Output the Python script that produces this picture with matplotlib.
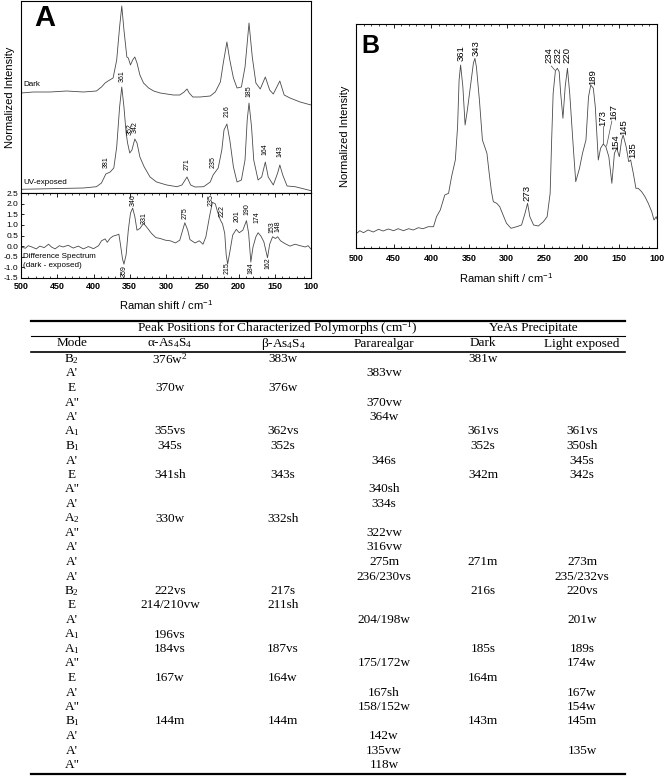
import matplotlib
matplotlib.use('Agg')
import matplotlib.pyplot as plt
from matplotlib.ticker import MultipleLocator, FormatStrFormatter

plt.rcParams['font.family'] = ['Liberation Sans', 'DejaVu Sans']
plt.rcParams['mathtext.default'] = 'regular'

# ---------------- Panel A: Dark spectrum ----------------
dark_w = [500, 483, 460, 437, 414, 396, 389, 384, 380, 373, 368, 364, 361, 358, 354, 352, 349, 346, 343, 340,
          336, 331, 324, 317, 308, 299, 290, 281, 275, 271, 268, 263, 253, 239, 232, 225, 221, 216, 212, 207,
          202, 196, 191, 185.5, 181, 176, 170, 163, 157, 152, 143, 137, 129, 115, 100]
dark_i = [1.00, 1.01, 1.01, 1.02, 1.01, 1.02, 1.06, 1.10, 1.12, 1.15, 1.33, 1.66, 1.87, 1.63, 1.36, 1.35, 1.28, 1.33, 1.36, 1.30,
          1.18, 1.10, 1.05, 1.02, 1.00, 0.99, 0.98, 0.98, 1.01, 1.04, 1.00, 0.96, 0.96, 0.97, 1.01, 1.11, 1.30, 1.51, 1.33, 1.15,
          1.05, 1.06, 1.26, 1.70, 1.36, 1.10, 1.04, 1.16, 1.03, 0.99, 1.12, 0.98, 0.95, 0.91, 0.88]

# ---------------- Panel A: UV-exposed spectrum ----------------
uv_w = [500, 460, 414, 396, 389, 383, 377, 372, 368, 364, 361, 358, 355, 353, 350, 347, 343, 340, 336, 330,
        322, 313, 299, 285, 278, 271, 266, 260, 248, 239, 235, 228, 223, 220, 216, 212, 207, 202, 196, 191,
        188, 185.5, 182, 179, 173, 168, 163, 159, 152, 146, 143, 139, 133, 122, 113, 100]
uv_i = [0.037, 0.043, 0.05, 0.063, 0.10, 0.19, 0.21, 0.25, 0.46, 0.86, 1.06, 0.86, 0.60, 0.50, 0.40, 0.43, 0.54, 0.50, 0.36, 0.26,
        0.16, 0.11, 0.08, 0.063, 0.08, 0.16, 0.08, 0.06, 0.063, 0.11, 0.18, 0.25, 0.43, 0.63, 0.69, 0.53, 0.26, 0.11, 0.13, 0.33,
        0.73, 0.90, 0.66, 0.33, 0.13, 0.16, 0.31, 0.16, 0.08, 0.20, 0.28, 0.18, 0.07, 0.063, 0.047, 0.023]

# ---------------- Panel A: Difference spectrum ----------------
diff_w = [500, 494, 490, 485, 479, 474, 468, 462, 458, 453, 447, 442, 435, 428, 421, 414, 407, 400, 393, 389,
          384, 381, 377, 373, 368, 365, 363, 360, 358, 355, 352, 349, 346, 343, 340, 336, 331, 327, 320, 314,
          308, 301, 294, 287, 281, 277, 274, 270, 267, 260, 254, 249, 245, 240, 236, 232, 229, 225, 222, 219,
          217, 215, 212, 208, 203, 199, 194, 189, 186, 183, 180, 176, 173, 169, 165, 160, 157, 153, 149, 146,
          142, 136, 129, 122, 115, 108, 104, 100]
diff_v = [-0.04, -0.10, 0.02, -0.04, -0.13, 0.0, -0.07, 0.09, -0.04, -0.13, 0.02, -0.04, 0.04, -0.09, 0.0, -0.13, -0.02, -0.12, 0.02, 0.25,
          0.34, 0.18, 0.37, 0.47, 0.52, 0.56, 0.12, -0.60, -0.85, -0.40, 0.75, 1.55, 1.79, 1.39, 0.75, 0.83, 1.07, 0.91, 0.60, 0.40,
          0.36, 0.28, 0.25, 0.15, 0.28, 0.75, 1.10, 0.75, 0.31, 0.15, 0.25, 0.09, 0.44, 1.39, 2.06, 1.99, 1.63, 1.23, 1.04, 0.60,
          -0.40, -0.85, -0.28, 0.52, 0.79, 0.63, 0.75, 1.20, 0.60, -0.75, -0.04, 0.44, 0.63, 0.47, 0.20, -0.55, 0.09, 0.44, 0.36, 0.44,
          0.25, 0.12, 0.0, 0.09, 0.02, -0.04, 0.02, -0.14]

# ---------------- Panel B spectrum ----------------
b_w = [499, 495, 490, 484, 477, 470, 464, 457, 450, 444, 437, 430, 424, 417, 411, 404, 397, 393, 388, 382,
       377, 373, 368, 365, 363, 361, 358, 355, 352, 348, 344, 342, 340, 336, 332, 326, 323, 320, 317.5, 313,
       309, 304, 300, 294, 286.5, 280, 275.4, 272, 269, 264, 257.7, 251, 246, 242, 240, 238, 235, 232.5, 230, 228,
       225, 222, 219, 216, 211, 208, 203, 199, 194.4, 191, 188, 184.6, 182, 178, 175, 171.4, 168, 164, 160, 156.6,
       153.6, 150, 147, 145, 141, 137.6, 135, 131.5, 128, 125, 120.4, 116, 111.6, 107, 104, 101, 100]
b_i = [0.147, 0.173, 0.153, 0.18, 0.16, 0.187, 0.17, 0.19, 0.173, 0.193, 0.173, 0.193, 0.18, 0.203, 0.193, 0.213, 0.213, 0.313, 0.38, 0.53,
       0.547, 0.713, 0.88, 1.213, 1.68, 1.83, 1.613, 1.23, 1.38, 1.613, 1.847, 1.897, 1.813, 1.48, 1.08, 0.947, 0.747, 0.563, 0.463, 0.447,
       0.413, 0.32, 0.247, 0.197, 0.213, 0.23, 0.347, 0.447, 0.313, 0.23, 0.22, 0.263, 0.313, 0.547, 1.08, 1.547, 1.773, 1.797, 1.763, 1.547,
       1.297, 1.613, 1.797, 1.547, 0.98, 0.663, 0.797, 0.947, 1.08, 1.513, 1.63, 1.597, 1.413, 0.88, 0.997, 1.04, 1.013, 0.913, 0.647, 0.947,
       0.997, 0.913, 1.08, 1.13, 1.013, 0.863, 0.88, 0.747, 0.597, 0.597, 0.563, 0.513, 0.447, 0.363, 0.28, 0.313, 0.29]

# ---------------- Peak labels ----------------
a_lab = ['381', '361', '352', '342', '271', '235', '216', '185', '164', '143']
a_lab_w = [382, 360, 350, 342, 271, 235, 216, 185, 163, 143]
a_lab_y = [0.25, 1.11, 0.58, 0.60, 0.23, 0.25, 0.76, 0.96, 0.38, 0.36]

d_lab = ['346', '331', '275', '235', '222', '201', '190', '174', '153', '148', '359', '215', '184', '162']
d_lab_w = [345, 330, 273, 238, 222, 202, 188, 174, 154, 146, 358, 216, 183, 160]
d_lab_y = [2.15, 1.31, 1.55, 2.18, 1.63, 1.42, 1.74, 1.36, 0.91, 0.94, -1.18, -1.02, -1.02, -0.80]

b_lab = ['361', '343', '234', '232', '220', '189', '273', '173', '167', '154', '145', '135']
b_lab_w = [360, 340, 243.5, 231.5, 219, 186, 273, 171.8, 157, 154.5, 144, 132]
b_lab_y = [1.95, 2.00, 1.93, 1.93, 1.93, 1.71, 0.55, 1.30, 1.36, 1.06, 1.21, 0.98]

# ---------------- Table ----------------
col_heads = ['Mode', 'α-As$_4$S$_4$', 'β-As$_4$S$_4$', 'Pararealgar', 'Dark', 'Light exposed']
group_heads = ['Peak Positions for Characterized Polymorphs (cm$^{-1}$)', 'YeAs Precipitate']
modes = ['B$_2$', "A'", 'E', 'A"', "A'", 'A$_1$', 'B$_1$', "A'", 'E', 'A"', "A'", 'A$_2$', 'A"', "A'", "A'",
         "A'", 'B$_2$', 'E', "A'", 'A$_1$', 'A$_1$', 'A"', 'E', "A'", 'A"', 'B$_1$', "A'", "A'", 'A"']
alpha = ['376w$^2$', '', '370w', '', '', '355vs', '345s', '', '341sh', '', '', '330w', '', '', '',
         '', '222vs', '214/210vw', '', '196vs', '184vs', '', '167w', '', '', '144m', '', '', '']
beta = ['383w', '', '376w', '', '', '362vs', '352s', '', '343s', '', '', '332sh', '', '', '',
        '', '217s', '211sh', '', '', '187vs', '', '164w', '', '', '144m', '', '', '']
para = ['', '383vw', '', '370vw', '364w', '', '', '346s', '', '340sh', '334s', '', '322vw', '316vw', '275m',
        '236/230vs', '', '', '204/198w', '', '', '175/172w', '', '167sh', '158/152w', '', '142w', '135vw', '118w']
dark = ['381w', '', '', '', '', '361vs', '352s', '', '342m', '', '', '', '', '', '271m',
        '', '216s', '', '', '', '185s', '', '164m', '', '', '143m', '', '', '']
light = ['', '', '', '', '', '361vs', '350sh', '345s', '342s', '', '', '', '', '', '273m',
         '235/232vs', '220vs', '', '201w', '', '189s', '174w', '', '167w', '154w', '145m', '', '135w', '']

W, H = 664, 776
fig = plt.figure(figsize=(W / 100, H / 100), dpi=100)


def rect(l, t, r, b):
    return [l / W, 1 - b / H, (r - l) / W, (b - t) / H]


LC = '#4a4a4a'
LW = 0.6

# ---- Panel A upper ----
axA = fig.add_axes(rect(21, 1, 311, 193))
axA.plot(dark_w, dark_i, color=LC, lw=LW)
axA.plot(uv_w, uv_i, color=LC, lw=LW)
axA.set_xlim(500, 100)
axA.set_ylim(0, 1.92)
axA.set_xticks([])
axA.set_yticks([])
axA.set_ylabel('Normalized Intensity', fontsize=8, labelpad=4)
for s, w, y in zip(a_lab, a_lab_w, a_lab_y):
    axA.text(w, y, s, rotation=90, ha='center', va='bottom', fontsize=5)
axA.text(497, 1.08, 'Dark', fontsize=5.8, ha='left', va='center')
axA.text(497, 0.10, 'UV-exposed', fontsize=5.8, ha='left', va='center')
fig.text(45 / W, 1 - 18 / H, 'A', fontsize=21, fontweight='bold', ha='center', va='center')

# ---- Panel A lower ----
axD = fig.add_axes(rect(21, 193, 311, 278))
axD.plot(diff_w, diff_v, color=LC, lw=LW)
axD.set_xlim(500, 100)
axD.set_ylim(-1.5, 2.5)
axD.set_yticks([-1.5, -1.0, -0.5, 0.0, 0.5, 1.0, 1.5, 2.0, 2.5])
axD.yaxis.set_major_formatter(FormatStrFormatter('%.1f'))
axD.xaxis.set_major_locator(MultipleLocator(50))
axD.xaxis.set_minor_locator(MultipleLocator(10))
axD.tick_params(axis='x', which='both', direction='in', top=True)
axD.tick_params(axis='x', which='major', length=3, width=0.6, labelsize=6.5, pad=3)
axD.tick_params(axis='x', which='minor', length=1.6, width=0.5)
axD.tick_params(axis='y', direction='in', length=2.5, width=0.6, labelsize=6, pad=2)
for lbl in axD.get_xticklabels():
    lbl.set_fontweight('bold')
axD.set_xlabel('Raman shift / cm$^{-1}$', fontsize=8, labelpad=5)
for s, w, y in zip(d_lab, d_lab_w, d_lab_y):
    axD.text(w, y, s, rotation=90, ha='center', va='center', fontsize=5)
axD.text(497, -0.48, 'Difference Spectrum', fontsize=5.8, ha='left', va='center')
axD.text(497, -0.91, '(dark - exposed)', fontsize=5.8, ha='left', va='center')

# ---- Panel B ----
axB = fig.add_axes(rect(356, 24, 657, 248))
axB.plot(b_w, b_i, color=LC, lw=LW)
axB.set_xlim(500, 100)
axB.set_ylim(0, 2.24)
axB.set_yticks([])
axB.xaxis.set_major_locator(MultipleLocator(50))
axB.xaxis.set_minor_locator(MultipleLocator(10))
axB.tick_params(axis='x', which='both', direction='in', top=True)
axB.tick_params(axis='x', which='major', length=3, width=0.6, labelsize=6.5, pad=4)
axB.tick_params(axis='x', which='minor', length=1.6, width=0.5)
for lbl in axB.get_xticklabels():
    lbl.set_fontweight('bold')
axB.set_xlabel('Raman shift / cm$^{-1}$', fontsize=8, labelpad=6)
axB.set_ylabel('Normalized Intensity', fontsize=8, labelpad=4)
for s, w, y in zip(b_lab, b_lab_w, b_lab_y):
    axB.text(w, y, s, rotation=90, ha='center', va='center', fontsize=6.8)
axB.plot([240.5, 236], [1.82, 1.78], color=LC, lw=0.5)
axB.plot([171.4, 171.4], [1.22, 1.04], color=LC, lw=0.5)
axB.plot([160, 167], [1.27, 1.02], color=LC, lw=0.5)
fig.text(370 / W, 1 - 46 / H, 'B', fontsize=18, fontweight='bold', ha='center', va='center')

# ---- Table ----
axT = fig.add_axes([0, 0, 1, 1])
axT.set_xlim(0, W)
axT.set_ylim(H, 0)
axT.axis('off')
TF = dict(family=['Liberation Serif', 'DejaVu Serif'], fontsize=9.5, ha='center', va='center')
col_x = [72, 170, 283, 384, 483, 582]
x0, x1 = 31, 625
axT.plot([x0, x1], [320.5, 320.5], color='k', lw=1.6)
axT.plot([x0, x1], [336, 336], color='k', lw=0.8)
axT.plot([x0, x1], [351.5, 351.5], color='k', lw=1.2)
axT.plot([x0, x1], [773.5, 773.5], color='k', lw=1.6)
axT.text(277, 328, group_heads[0], **TF)
axT.text(533, 328, group_heads[1], **TF)
for x, s in zip(col_x, col_heads):
    axT.text(x, 343.5, s, **TF)
y0, dy = 359, 14.5
for i in range(len(modes)):
    y = y0 + i * dy
    for x, col in zip(col_x, [modes, alpha, beta, para, dark, light]):
        if col[i]:
            axT.text(x, y, col[i], **TF)

fig.savefig('out.png', dpi=100)
